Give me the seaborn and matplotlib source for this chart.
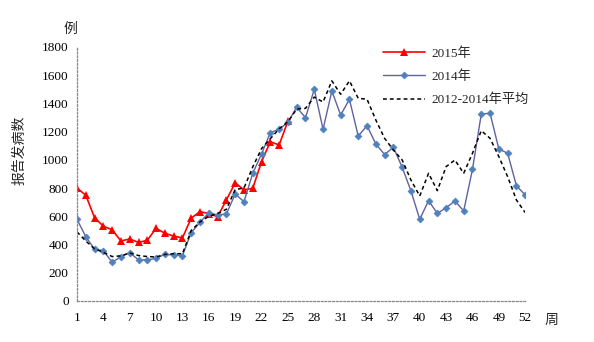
import matplotlib
matplotlib.use("Agg")
import matplotlib.pyplot as plt
import seaborn as sns
import pandas as pd
import numpy as np

weeks = list(range(1, 53))
cases_2015 = [800, 750, 590, 530, 505, 425, 440, 415, 430, 515, 480, 460, 447,
              588, 633, 620, 597, 716, 838, 787, 799, 987, 1129, 1105, 1275]
cases_2014 = [579, 456, 366, 357, 274, 314, 343, 291, 291, 302, 331, 326, 321,
              484, 558, 626, 609, 617, 758, 704, 905, 1042, 1193, 1217, 1266, 1373,
              1299, 1500, 1217, 1488, 1318, 1429, 1169, 1242, 1113, 1038, 1089, 948,
              780, 579, 711, 621, 661, 709, 638, 933, 1325, 1330, 1077, 1047, 817, 751]
cases_avg = [490, 425, 370, 345, 315, 320, 340, 322, 315, 312, 330, 335, 335,
             500, 560, 600, 620, 650, 790, 800, 950, 1080, 1150, 1220, 1270, 1360,
             1365, 1445, 1410, 1560, 1465, 1560, 1436, 1430, 1283, 1153, 1070, 999,
             857, 744, 905, 782, 952, 999, 905, 1047, 1207, 1153, 1023, 881, 716, 626]

xticks = list(range(1, 53, 3))
yticks = list(range(0, 1801, 200))

sns.set_theme(style="white")
plt.rcParams['font.family'] = ['Liberation Serif', 'Noto Sans CJK SC', 'DejaVu Sans']

fig = plt.figure(figsize=(5.94, 3.42), dpi=100)
ax = fig.add_axes([0.1296, 0.1199, 0.7546, 0.7427])

d15 = pd.DataFrame({"week": weeks[:len(cases_2015)], "n": cases_2015})
d14 = pd.DataFrame({"week": weeks, "n": cases_2014})
dav = pd.DataFrame({"week": weeks, "n": cases_avg})

sns.lineplot(data=d15, x="week", y="n", ax=ax, color="#FF0000", lw=1.2,
             marker="^", markersize=5.5, markeredgewidth=0, label="2015年")
sns.lineplot(data=d14, x="week", y="n", ax=ax, color="#60619E", lw=1.0,
             marker="D", markersize=3.5, markerfacecolor="#4F81BD",
             markeredgecolor="#4F81BD", markeredgewidth=0.5, label="2014年")
sns.lineplot(data=dav, x="week", y="n", ax=ax, color="black", lw=1.1,
             linestyle=(0, (2.5, 2)), label="2012-2014年平均")

ax.set_xlim(1, 52)
ax.set_ylim(0, 1800)
ax.set_xticks(xticks)
ax.set_yticks(yticks)
ax.set_xlabel("")
ax.set_ylabel("")
for s in ["top", "right"]:
    ax.spines[s].set_visible(False)
for s in ["left", "bottom"]:
    ax.spines[s].set_color("#888888")
    ax.spines[s].set_linestyle((0, (1.5, 1.5)))
    ax.spines[s].set_linewidth(0.9)
ax.tick_params(axis="both", which="both", direction="inout", length=4,
               width=0.7, color="#888888", labelsize=9.5, labelcolor="black")
ax.tick_params(axis="x", pad=6)
ax.tick_params(axis="y", pad=4)
ax.grid(False)

fig.text(0.118, 0.915, "例", fontsize=10, ha="center", va="center",
         family=['Noto Sans CJK SC'])
fig.text(0.928, 0.065, "周", fontsize=10, ha="center", va="center",
         family=['Noto Sans CJK SC'])
fig.text(0.033, 0.56, "报告发病数", fontsize=10, ha="center", va="center",
         rotation=90, family=['Noto Sans CJK SC'])

leg = ax.legend(loc="upper left", bbox_to_anchor=(0.665, 1.03), frameon=False,
                fontsize=9.5, handlelength=3.2, labelspacing=0.8,
                handletextpad=0.5, borderaxespad=0.2)

fig.savefig("out.png", dpi=100, facecolor="white")
